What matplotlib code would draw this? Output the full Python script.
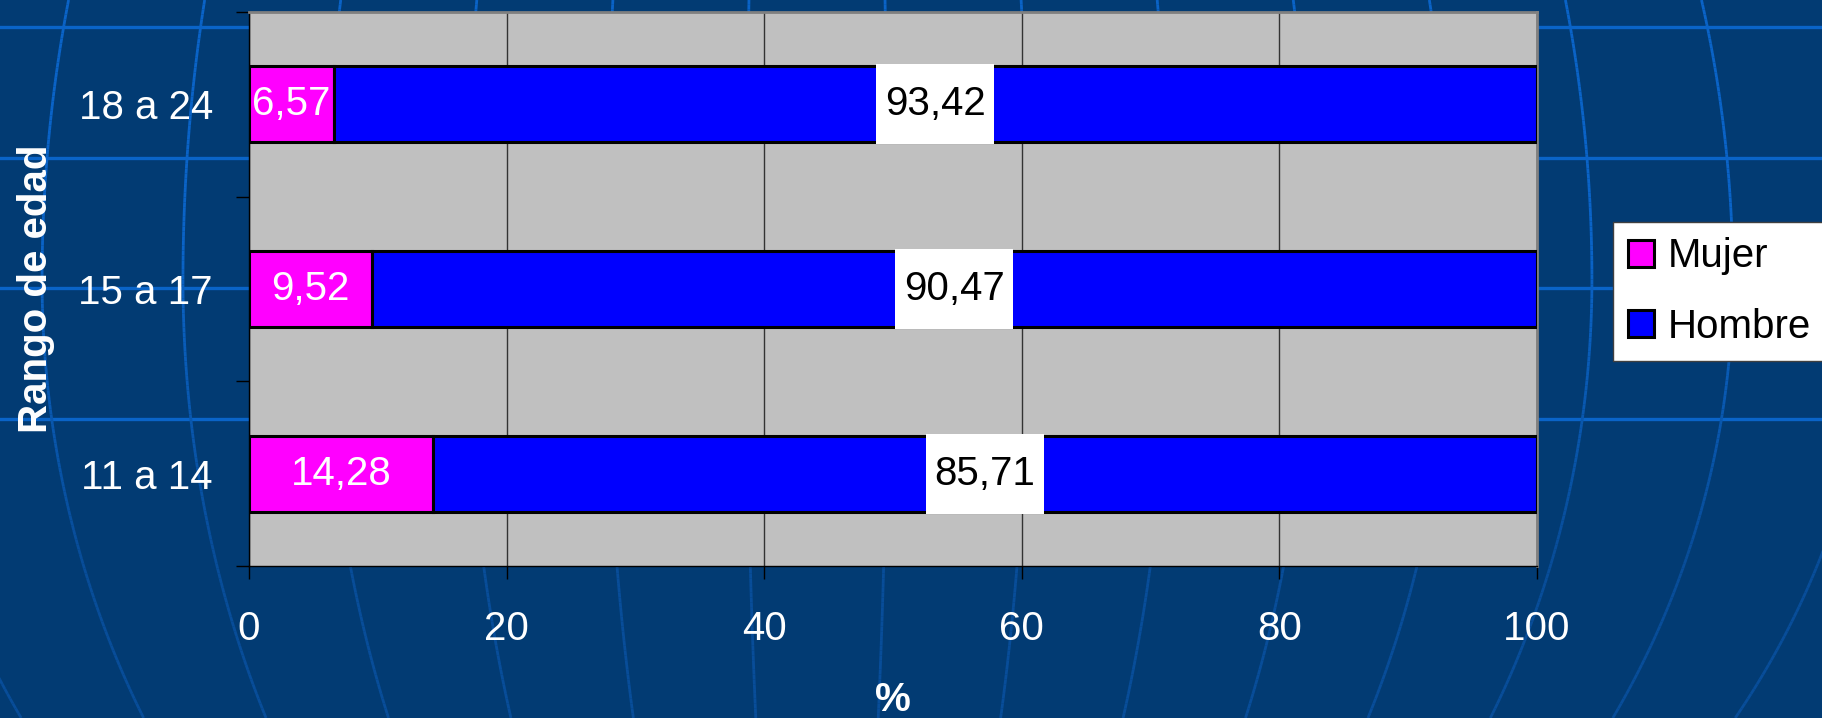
import matplotlib as mpl
mpl.use('Agg')
import matplotlib.pyplot as plt
import numpy as np
from matplotlib.collections import LineCollection
from matplotlib.path import Path

plt.rcParams['font.family'] = ['Liberation Sans', 'DejaVu Sans']

# datos
categorias = ['11 a 14', '15 a 17', '18 a 24']
mujer = [14.28, 9.52, 6.57]
hombre = [85.71, 90.47, 93.42]
ticks_x = [0, 20, 40, 60, 80, 100]

W, H = 1822, 718
FS = 29
fig = plt.figure(figsize=(W / 100, H / 100), dpi=100)
fig.patch.set_facecolor('#023B73')

# fondo decorativo (rejilla tipo globo)
bg = fig.add_axes([0, 0, 1, 1], zorder=-1)
bg.set_xlim(0, W)
bg.set_ylim(H, 0)
bg.axis('off')
for yh in [27, 158, 288, 419]:
    bg.axhline(yh, color='#0A64C8', lw=2.4)
cx = 817
ys = np.linspace(0, H, 150)
R = np.where(ys < 280, 1080, 885)
g = 1.036 * np.sqrt(1 - ((ys - 280) / R) ** 2)
bright = np.array([0.04, 0.39, 0.78])
dim = np.array([0.03, 0.30, 0.60])
t = np.clip((ys[:-1] - 250) / 300, 0, 1)
cols = (1 - t)[:, None] * bright + t[:, None] * dim
for k in range(-1, 14):
    x0 = 69 + 136 * k
    xs = cx + (x0 - cx) * g
    pts = np.column_stack([xs, ys])
    segs = np.stack([pts[:-1], pts[1:]], axis=1)
    bg.add_collection(LineCollection(segs, colors=cols, linewidths=2))


# caja blanca de las etiquetas (mas alta que ancha)
def caja(x0, y0, width, height, mutation_size):
    px = 0.22 * mutation_size
    py = 0.52 * mutation_size
    x0, y0 = x0 - px, y0 - py
    x1, y1 = x0 + width + 2 * px, y0 + height + 2 * py
    return Path([(x0, y0), (x1, y0), (x1, y1), (x0, y1), (x0, y0)], closed=True)


# grafico
ax = fig.add_axes([249 / W, 1 - 566 / H, 1288 / W, 554 / H])
ax.set_facecolor('#C0C0C0')
y = np.arange(len(categorias))
ax.barh(y, mujer, height=0.41, color='#FF00FF', edgecolor='black',
        linewidth=2.2, label='Mujer', zorder=3)
ax.barh(y, hombre, left=mujer, height=0.41, color='#0000FF', edgecolor='black',
        linewidth=2.2, label='Hombre', zorder=3)

for i in range(len(categorias)):
    ax.text(mujer[i] / 2, y[i], f'{mujer[i]:.2f}'.replace('.', ','),
            color='white', ha='center', va='center', fontsize=FS, zorder=5)
    ax.text(mujer[i] + hombre[i] / 2, y[i], f'{hombre[i]:.2f}'.replace('.', ','),
            color='black', ha='center', va='center', fontsize=FS, zorder=5,
            bbox=dict(boxstyle=caja, fc='white', ec='none'))

ax.set_xlim(0, 100)
ax.set_ylim(-0.5, len(categorias) - 0.5)
ax.set_xticks(ticks_x)
ax.set_yticks(np.arange(len(categorias) + 1) - 0.5)
ax.set_yticklabels([])
ax.set_yticks(y, minor=True)
ax.set_yticklabels(categorias, minor=True)
ax.tick_params(axis='y', which='minor', length=0, pad=26, labelsize=FS, labelcolor='white')
ax.tick_params(axis='y', which='major', length=9.4, width=1, color='black')
ax.tick_params(axis='x', length=9.4, width=1, color='black', pad=22,
               labelsize=FS, labelcolor='white')
ax.set_axisbelow(True)
ax.grid(axis='x', color='#333333', linewidth=1)

for s in ['left', 'bottom']:
    ax.spines[s].set_color('black')
    ax.spines[s].set_linewidth(1)
for s in ['top', 'right']:
    ax.spines[s].set_color('#808080')
    ax.spines[s].set_linewidth(2)

ax.set_ylabel('Rango de edad', fontsize=FS, fontweight='bold', color='white')
ax.yaxis.set_label_coords(-0.151, 0.5)
ax.set_xlabel('%', fontsize=FS, fontweight='bold', color='white')
ax.xaxis.set_label_coords(0.5, -0.208)

fig.legend(loc='upper left', bbox_to_anchor=(1613 / W, 1 - 222 / H), fontsize=FS,
           frameon=True, fancybox=False, framealpha=1, edgecolor='#404040',
           facecolor='white', borderaxespad=0, borderpad=0.38,
           handlelength=0.65, handleheight=0.65, handletextpad=0.33,
           labelspacing=0.8)

fig.savefig('out.png', dpi=100, facecolor=fig.get_facecolor())
plt.close()
